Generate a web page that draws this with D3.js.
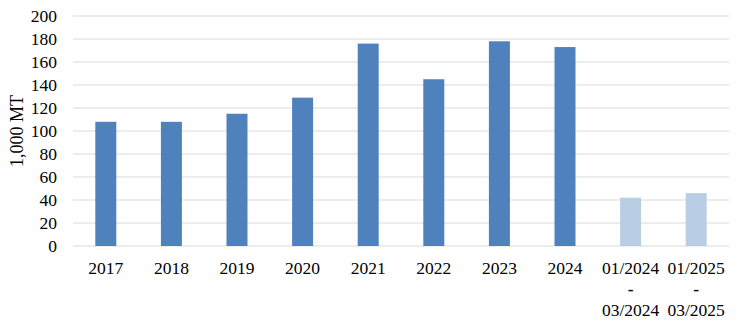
<!DOCTYPE html>
<html>
<head>
<meta charset="utf-8">
<script src="https://cdn.jsdelivr.net/npm/d3@7"></script>
<style>
  body { margin: 0; background: #fff; }
  text { font-family: "Liberation Serif", "Times New Roman", serif; fill: #000; }
</style>
</head>
<body>
<svg id="chart" width="748" height="325"></svg>
<script>
const categories = ["2017", "2018", "2019", "2020", "2021", "2022", "2023", "2024", "01/2024\n-\n03/2024", "01/2025\n-\n03/2025"];
const values = [108, 108, 115, 129, 176, 145, 178, 173, 42, 46];
const isPartial = [false, false, false, false, false, false, false, false, true, true];
const yTicks = [0, 20, 40, 60, 80, 100, 120, 140, 160, 180, 200];
const yLabel = "1,000 MT";

const svg = d3.select("#chart");
const margin = { top: 16, right: 19, bottom: 79, left: 73 };
const width = 748 - margin.left - margin.right;
const height = 325 - margin.top - margin.bottom;

const g = svg.append("g").attr("transform", `translate(${margin.left},${margin.top})`);

const x = d3.scaleBand().domain(categories).range([0, width]).paddingInner(0.68).paddingOuter(0.34);
const y = d3.scaleLinear().domain([0, 200]).range([height, 0]);

// gridlines
g.selectAll(".grid")
  .data(yTicks)
  .join("line")
  .attr("class", "grid")
  .attr("x1", 0)
  .attr("x2", width)
  .attr("y1", d => y(d))
  .attr("y2", d => y(d))
  .attr("stroke", "#d9d9d9")
  .attr("stroke-width", 1);

// bars
g.selectAll(".bar")
  .data(categories.map((c, i) => ({ c, v: values[i], partial: isPartial[i] })))
  .join("rect")
  .attr("class", "bar")
  .attr("x", d => x(d.c))
  .attr("width", x.bandwidth())
  .attr("y", d => y(d.v))
  .attr("height", d => y(0) - y(d.v))
  .attr("fill", d => d.partial ? "#b9cde5" : "#4f81bd");

// y axis labels
const yAxis = g.append("g")
  .call(d3.axisLeft(y).tickValues(yTicks).tickSize(0).tickPadding(16));
yAxis.select(".domain").remove();
yAxis.selectAll("text")
  .style("font-family", "Liberation Serif, serif")
  .style("font-size", "17.5px")
  .attr("fill", "#000");

// x axis labels
const xAxis = g.append("g")
  .attr("transform", `translate(0,${height})`)
  .call(d3.axisBottom(x).tickSize(0).tickFormat(""));
xAxis.select(".domain").remove();
xAxis.selectAll(".tick").each(function(d) {
  const lines = d.split("\n");
  const t = d3.select(this).append("text")
    .attr("text-anchor", "middle")
    .style("font-family", "Liberation Serif, serif")
    .style("font-size", "17.5px")
    .attr("fill", "#000");
  lines.forEach((ln, i) => {
    t.append("tspan")
      .attr("x", 0)
      .attr("y", 27.5 + i * 21)
      .style("font-weight", ln === "-" ? "bold" : null)
      .text(ln);
  });
});

// y axis title
svg.append("text")
  .attr("transform", `translate(23,${margin.top + height / 2}) rotate(-90)`)
  .attr("text-anchor", "middle")
  .style("font-size", "18px")
  .text(yLabel);
</script>
</body>
</html>
